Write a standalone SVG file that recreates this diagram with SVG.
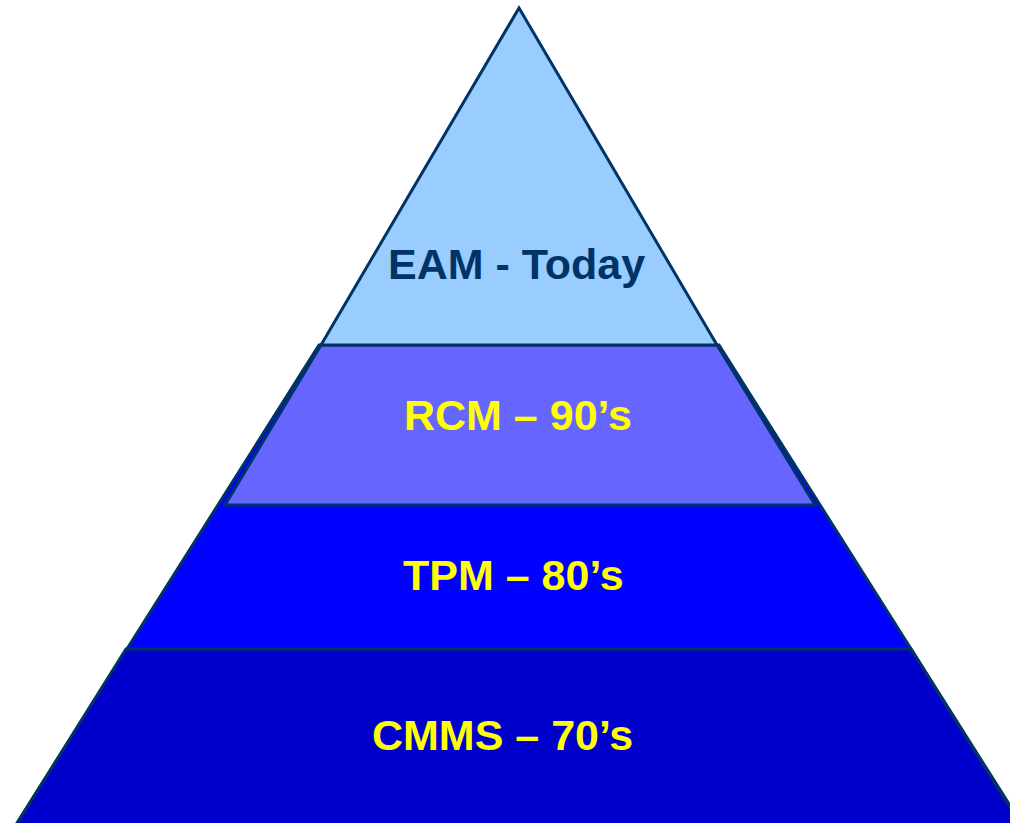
<svg xmlns="http://www.w3.org/2000/svg" width="1010" height="823" viewBox="0 0 1010 823">
<style>
.layer{stroke:#003366;stroke-width:3;stroke-linejoin:miter}
.lbl{font-family:"Liberation Sans",Arial,sans-serif;font-weight:bold;font-size:43px}
.y{fill:#FFFF00}
.n{fill:#003366}
</style>
<rect width="1010" height="823" fill="#ffffff"/>
<g id="tpm">
<polygon class="layer" points="319,345 719,345 1021,823 17,823" fill="#0000FF"/>
<text class="lbl y" x="403" y="590">TPM – 80’s</text>
</g>
<g id="cmms">
<polygon class="layer" points="126,649 911,649 1021,825 16,825" fill="#0000CC"/>
<text class="lbl y" x="372" y="750">CMMS – 70’s</text>
</g>
<g id="rcm">
<polygon class="layer" points="321,345 717,345 815,505 225,505" fill="#6666FF"/>
<text class="lbl y" x="404" y="430">RCM – 90’s</text>
</g>
<g id="eam">
<polygon class="layer" points="519,8 717,345 321,345" fill="#99CCFF"/>
<text class="lbl n" x="388" y="279">EAM - Today</text>
</g>
<g id="connectors"/>
</svg>
